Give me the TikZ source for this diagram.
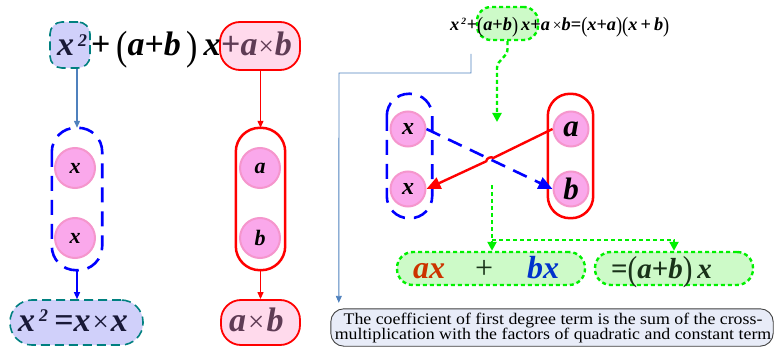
\documentclass[tikz,border=0pt]{standalone}
\usepackage{fontspec}
\setmainfont{Liberation Serif}
\usepackage{graphicx}
\usetikzlibrary{arrows.meta,calc}
\definecolor{lav}{RGB}{208,208,250}
\definecolor{tealb}{RGB}{0,128,128}
\definecolor{pinkf}{RGB}{255,218,236}
\definecolor{mauve}{RGB}{95,60,85}
\definecolor{circf}{RGB}{250,168,235}
\definecolor{circd}{RGB}{245,150,205}
\definecolor{grn}{RGB}{0,240,0}
\definecolor{lgreen}{RGB}{205,250,200}
\definecolor{dkgreen}{RGB}{25,50,25}
\definecolor{steel}{RGB}{79,129,189}
\definecolor{orangered}{RGB}{204,51,0}
\definecolor{bxblue}{RGB}{0,51,204}
\definecolor{navy}{RGB}{25,25,55}
\definecolor{notef}{RGB}{232,236,248}
\newcommand\bi[1]{{\bfseries\itshape #1}}
\newcommand\op[1]{{\upshape\bfseries #1}}
\newcommand\pr[1]{{\upshape\mdseries #1}}
\newcommand\tp[1]{\raisebox{-0.1em}{\scalebox{1}[1.2]{\upshape\mdseries #1}}}
\newcommand\sq{\textsuperscript{\,\scalebox{0.75}{\bi{2}}}}
\begin{document}
\begin{tikzpicture}[x=1pt,y=-1pt,
  lavbox/.style={draw=tealb, dash pattern=on 9pt off 5pt, line width=1.6pt, fill=lav},
  pinkbox/.style={draw=red, line width=1.8pt, fill=pinkf},
  circ/.style={circle, fill=circf, draw=circd, line width=2pt, minimum size=40pt, inner sep=0pt, font=\fontsize{22}{24}\selectfont},
  circs/.style={circ, minimum size=35pt},
  bluedash/.style={draw=blue, line width=2.6pt, dash pattern=on 15pt off 9pt},
  redbox/.style={draw=red, line width=2.5pt},
  gbox/.style={draw=grn, line width=2.4pt, dash pattern=on 4pt off 3pt, fill=lgreen},
  gdot/.style={draw=grn, line width=2.4pt, dash pattern=on 4pt off 3pt},
  txt/.style={inner sep=0pt, anchor=base west},
  big/.style={font=\fontsize{34}{40}\selectfont},
  tip/.style={-{Triangle[length=9pt,width=9pt]}},
  stip/.style={-{Triangle[length=7pt,width=6pt]}}
]
\useasboundingbox (0,0) rectangle (775,347);

% ---------- left part ----------
\node[lavbox, rounded corners=12pt, minimum width=40pt, minimum height=46pt] (sq) at (70,45) {};
\node[pinkbox, rounded corners=20pt, minimum width=80pt, minimum height=48pt] (ab) at (260,46) {};
\node[txt, big, text=navy] (t1) at (57,56) {\bi{x}\sq};
\node[txt, big] (t2) at (91,56) {\op{+}\,\tp{(}\bi{a}\op{+}\bi{b}\,\tp{)}\,\bi{x}};
\node[txt, big, text=mauve] (t3) at (221,56) {\op{+}\bi{a}\hspace{1pt}\scalebox{0.8}{\pr{×}}\hspace{1pt}\bi{b}};

\node[draw=none, minimum width=50pt, minimum height=142pt] (xbox) at (77,199) {};
\draw[bluedash, rounded corners=24pt] (xbox.north west) rectangle (xbox.south east);
\node[draw=none, minimum width=49pt, minimum height=142pt] (rbox) at (260.5,199) {};
\draw[redbox, rounded corners=24pt] (rbox.north west) rectangle (rbox.south east);

\node[circ] (x1) at (75,168) {\bi{x}};
\node[circ] (x2) at (75,238) {\bi{x}};
\node[circ] (a1) at (260,168) {\bi{a}};
\node[circ] (b1) at (260,238) {\bi{b}};

\node[lavbox, rounded corners=22pt, minimum width=133pt, minimum height=45pt] (sq2) at (76.5,322.5) {};
\node[txt, big, text=navy] at (18,331) {\bi{x}\sq\,\op{=}\bi{x}\hspace{2pt}\scalebox{0.85}{\pr{×}}\hspace{2pt}\bi{x}};
\node[pinkbox, rounded corners=20pt, minimum width=79pt, minimum height=45pt] (ab2) at (260.5,322.5) {};
\node[txt, big, text=mauve] at (229,331) {\bi{a}\hspace{2pt}\scalebox{0.85}{\pr{×}}\hspace{2pt}\bi{b}};

\draw[steel, line width=1.2pt, stip] (sq.south -| xbox.north) -- (xbox.north);
\draw[red, line width=1.2pt, stip] (ab.south -| rbox.north) -- (rbox.north);
\draw[blue, line width=1.2pt, stip] (xbox.south) -- (sq2.north -| xbox.south);
\draw[red, line width=1.2pt, stip] (rbox.south) -- (ab2.north -| rbox.south);

% ---------- right part ----------
\node[gbox, rounded corners=14pt, minimum width=61pt, minimum height=33pt] (gb) at (507.5,23.5) {};
\node[txt, font=\fontsize{18.3}{22}\selectfont] (eq) at (450,31)
  {\bi{x}\sq\op{+}\tp{(}\bi{a}\op{+}\bi{b}\tp{)}\,\bi{x}\op{+}\bi{a}\,\scalebox{0.85}{\pr{×}}\bi{b}\op{=}\tp{(}\bi{x}\op{+}\bi{a}\tp{)}\tp{(}\bi{x}\,\op{+}\,\bi{b}\tp{)}};

\coordinate (gtip) at (497,122);
\draw[gdot, tip] (gb.south) -- ++(0,8) to[out=-90,in=90] (497,68) -- (gtip);

\coordinate (cs) at (471,54);
\node[draw=none, minimum width=442pt, minimum height=37pt] (note) at (552,327.5) {};
\draw[steel, line width=0.9pt, stip] (cs) -- (471,73) -- (339,73) -- ($(note.north west)+(8,-6)$);

\node[draw=none, minimum width=45pt, minimum height=124pt] (xbox2) at (409.5,156) {};
\draw[bluedash, rounded corners=22pt] (xbox2.north west) rectangle (xbox2.south east);
\node[draw=none, minimum width=45pt, minimum height=124pt] (rbox2) at (570.5,156) {};
\draw[redbox, rounded corners=22pt] (rbox2.north west) rectangle (rbox2.south east);

\node[circs, font=\fontsize{24}{26}\selectfont] (rx1) at (408,129) {\bi{x}};
\node[circs, font=\fontsize{24}{26}\selectfont] (rx2) at (408,189) {\bi{x}};
\node[circs, font=\fontsize{31}{33}\selectfont] (ra) at (571,129) {\bi{a}};
\node[circs, font=\fontsize{31}{33}\selectfont] (rb) at (571,189) {\bi{b}};

\draw[bluedash, -{Triangle[length=14pt,width=12pt]}] (rx1.east) -- (rb.west);
\coordinate (h1) at (493.4,157.9);
\coordinate (h2) at (486.2,161.3);
\draw[red, line width=2.4pt, -{Triangle[length=14pt,width=12pt]}] (ra.west) -- (h1) to[out=146,in=86] (h2) -- (rx2.east);

\node[gbox, rounded corners=16pt, minimum width=188pt, minimum height=33pt] (gb1) at (491,268.5) {};
\node[gbox, rounded corners=16pt, minimum width=158pt, minimum height=33pt] (gb2) at (674,268.5) {};
\coordinate (gs) at (492,185);
\coordinate (gj) at (492,240);
\draw[gdot, tip] (gs) -- (gb1.north -| gs);
\draw[gdot, tip] (gj) -- (gj -| gb2.north) -- (gb2.north);

\node[txt, font=\fontsize{32}{34}\selectfont, text=orangered] at (413,278) {\bi{ax}};
\node[txt, font=\fontsize{32}{34}\selectfont, text=dkgreen] at (475,278) {\pr{+}};
\node[txt, font=\fontsize{32}{34}\selectfont, text=bxblue] at (527,278) {\bi{bx}};
\node[txt, font=\fontsize{29}{32}\selectfont, text=dkgreen] at (611,278) {\op{=}\tp{(}\bi{a}\op{+}\bi{b}\tp{)}\,\bi{x}};

\draw[draw=black!75, line width=0.9pt, fill=notef, rounded corners=13pt] (note.north west) rectangle (note.south east);
\node[align=center, inner sep=0pt, font=\fontsize{16.2}{15}\selectfont] at (553,328)
  {\scalebox{1.1}[1]{The coefficient of first degree term is the sum of the cross-}\\\scalebox{1.1}[1]{multiplication with the factors of quadratic and constant term}};
\end{tikzpicture}
\end{document}
